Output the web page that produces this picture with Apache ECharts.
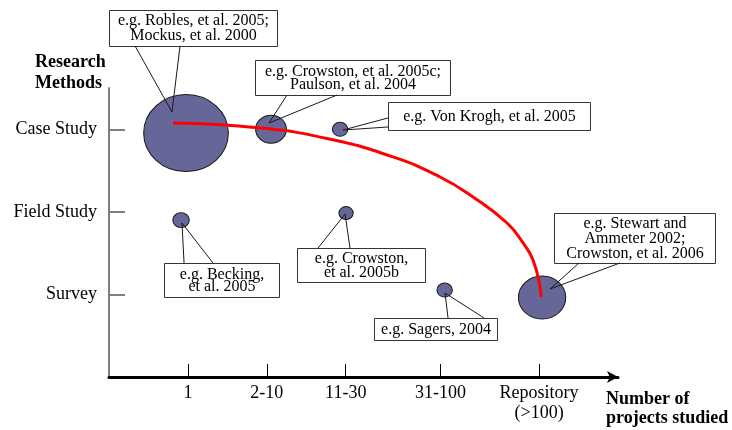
<!DOCTYPE html>
<html><head><meta charset="utf-8">
<script src="https://cdn.jsdelivr.net/npm/echarts@6/dist/echarts.min.js"></script>
<style>html,body{margin:0;padding:0;background:#fff}#c{width:732px;height:430px}</style>
</head><body><div id="c"></div>
<script>
// ---- data ----
const xTickValues = [1, 2, 3, 4.2, 5.45];
const xTickLabels = ['1', '2-10', '11-30', '31-100', 'Repository\n(>100)'];
const yTickValues = [1, 2, 3];
const yTickLabels = ['Survey', 'Field Study', 'Case Study'];

const bubbleX = [0.976, 2.053, 2.928, 0.913, 3.004, 4.253, 5.488];
const bubbleY = [2.954, 3.0, 3.0, 1.90, 1.985, 1.053, 0.962];
const bubbleWeight = [77, 28, 14, 15, 13, 14, 43];

const trendX = [0.811, 1.914, 2.763, 3.599, 4.195, 4.613, 5.044, 5.247, 5.373, 5.462, 5.475];
const trendY = [3.076, 3.016, 2.888, 2.665, 2.422, 2.180, 1.865, 1.623, 1.417, 1.090, 0.969];

const calloutTexts = [
  'e.g. Robles, et al. 2005;\nMockus, et al. 2000',
  'e.g. Crowston, et al. 2005c;\nPaulson, et al. 2004',
  'e.g. Von Krogh, et al. 2005',
  'e.g. Becking,\net al. 2005',
  'e.g. Crowston,\net al. 2005b',
  'e.g. Sagers, 2004',
  'e.g. Stewart and\nAmmeter 2002;\nCrowston, et al. 2006'
];

// ---- annotation layout (data units) ----
const calloutLayout = [
  {box:[0.0, 4.445, 2.129, 4.009], tip:[0.798, 3.209], base:[[0.330, 4.009],[0.900, 4.009]], lh:15},
  {box:[1.850, 3.839, 4.322, 3.415], tip:[2.028, 3.076], base:[[2.256, 3.415],[2.890, 3.415]], lh:13},
  {box:[3.536, 3.331, 6.096, 2.991], tip:[2.966, 2.991], base:[[3.536, 3.137],[3.536, 3.028]], lh:14},
  {box:[0.697, 1.381, 2.155, 0.969], tip:[0.925, 1.865], base:[[0.951, 1.381],[1.318, 1.381]], lh:12},
  {box:[2.383, 1.562, 4.005, 1.151], tip:[2.991, 1.974], base:[[2.649, 1.562],[3.054, 1.562]], lh:14},
  {box:[3.358, 0.715, 4.917, 0.448], tip:[4.258, 1.017], base:[[4.296, 0.715],[4.752, 0.715]], lh:14},
  {box:[5.640, 1.986, 7.680, 1.381], tip:[5.589, 1.066], base:[[5.956, 1.381],[6.476, 1.381]], lh:15}
];

const FONT = '"Liberation Serif", "Times New Roman", serif';
const chart = echarts.init(document.getElementById('c'), null, {renderer: 'canvas'});

function crisp(v){ return Math.round(v) + 0.5; }

chart.setOption({
  animation: false,
  backgroundColor: '#fff',
  title: [
    {text: 'Research\nMethods', left: 35, top: 52, padding: 0,
     textStyle: {fontFamily: FONT, fontSize: 18, fontWeight: 'bold', lineHeight: 21, color: '#000'}},
    {text: 'Number of\nprojects studied', left: 606, top: 390, padding: 0,
     textStyle: {fontFamily: FONT, fontSize: 18, fontWeight: 'bold', lineHeight: 19, color: '#000'}}
  ],
  grid: {left: 109, right: 114, top: 88, bottom: 53},
  xAxis: {
    type: 'value', min: 0, max: 6.45,
    splitLine: {show: false},
    axisLine: {show: true, symbol: ['none', 'arrow'], symbolSize: [9, 11],
               lineStyle: {color: '#000', width: 3}},
    axisTick: {show: true, inside: true, length: 13, customValues: xTickValues,
               lineStyle: {color: '#000', width: 1}},
    axisLabel: {show: true, customValues: xTickValues, margin: 6,
                fontFamily: FONT, fontSize: 18, color: '#000', lineHeight: 20,
                formatter: function(v){ const i = xTickValues.indexOf(v); return i >= 0 ? xTickLabels[i] : ''; }}
  },
  yAxis: {
    type: 'value', min: 0, max: 3.5,
    splitLine: {show: false},
    axisLine: {show: true, lineStyle: {color: '#7f7f7f', width: 2}},
    axisTick: {show: true, inside: true, length: 16, customValues: yTickValues,
               lineStyle: {color: '#7f7f7f', width: 2}},
    axisLabel: {show: true, customValues: yTickValues, margin: 12,
                fontFamily: FONT, fontSize: 18, color: '#000',
                formatter: function(v){ const i = yTickValues.indexOf(v); return i >= 0 ? yTickLabels[i] : ''; }}
  },
  series: [
    {
      type: 'scatter', z: 2,
      data: bubbleX.map((x, i) => [x, bubbleY[i], bubbleWeight[i]]),
      symbolSize: function(val){ return [val[2] * 1.1, val[2]]; },
      itemStyle: {color: '#666699', borderColor: '#1a1a1a', borderWidth: 1, opacity: 1}
    },
    {
      type: 'custom', z: 3, clip: false,
      data: calloutLayout.map((c, i) => [c.tip[0], c.tip[1], i]),
      encode: {x: 0, y: 1},
      renderItem: function(params, api){
        const c = calloutLayout[api.value(2)];
        const p1 = api.coord([c.box[0], c.box[1]]);
        const p2 = api.coord([c.box[2], c.box[3]]);
        const x1 = crisp(p1[0]), y1 = crisp(p1[1]), x2 = crisp(p2[0]), y2 = crisp(p2[1]);
        const t = api.coord(c.tip), b0 = api.coord(c.base[0]), b1 = api.coord(c.base[1]);
        return {
          type: 'group',
          children: [
            {type: 'rect', shape: {x: x1, y: y1, width: x2 - x1, height: y2 - y1},
             style: {fill: '#fff', stroke: '#333', lineWidth: 1}},
            {type: 'polyline', shape: {points: [b0, t, b1]},
             style: {fill: null, stroke: '#1a1a1a', lineWidth: 1}},
            {type: 'text',
             style: {text: calloutTexts[api.value(2)], x: (x1 + x2) / 2, y: (y1 + y2) / 2,
                     align: 'center', verticalAlign: 'middle',
                     fontFamily: FONT, fontSize: 16, lineHeight: c.lh, fill: '#000'}}
          ]
        };
      }
    },
    {
      type: 'line', z: 4, smooth: 0.5, showSymbol: false, symbol: 'none',
      data: trendX.map((x, i) => [x, trendY[i]]),
      lineStyle: {color: '#ff0000', width: 3}
    }
  ]
});
</script>
</body></html>
